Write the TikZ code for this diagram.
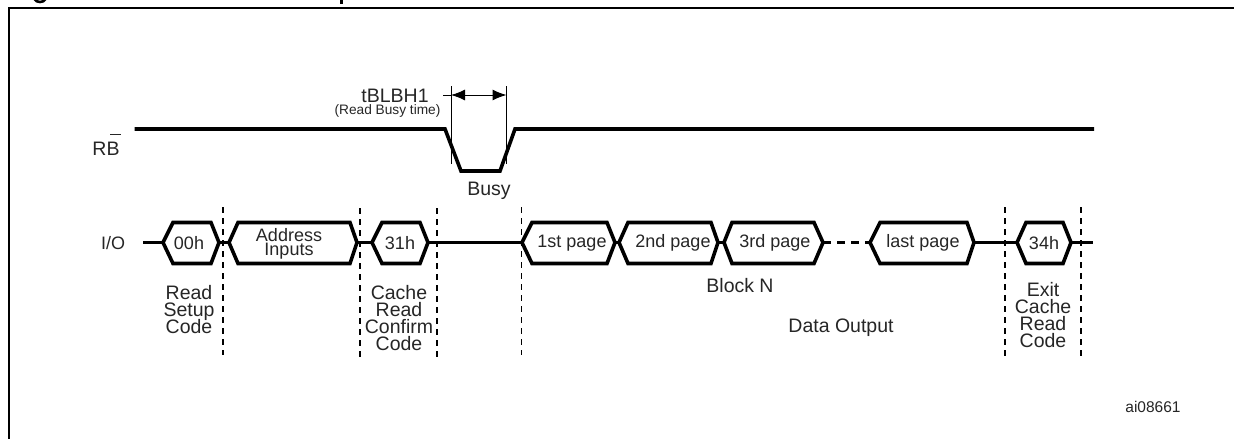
\documentclass[tikz,border=0pt]{standalone}
\usepackage{fontspec}
\setmainfont{Liberation Sans}
\usetikzlibrary{arrows.meta}
\newcommand{\capfont}{\fontsize{19.5}{17}\selectfont\setlength{\lineskiplimit}{-20pt}}
\newcommand{\hexfont}{\fontsize{18}{14}\selectfont\setlength{\lineskiplimit}{-20pt}}
\tikzset{
  sig/.style={line width=3.6pt,line join=miter,line cap=butt},
  wire/.style={line width=3.6pt},
  thinwire/.style={line width=2.6pt},
  guide/.style={line width=1pt},
  cut/.style={line width=1.1pt,dash pattern=on 6pt off 5pt},
  lbl/.style={inner sep=0pt,outer sep=0pt,font=\capfont,align=center,text=black!85},
  hexl/.style={lbl,font=\hexfont},
  tiny/.style={lbl,font=\fontsize{13.7}{14}\selectfont},
}
% \hexa{name}{left tip}{top left}{top right}{right tip}{text x}
\newcommand{\hexa}[6]{%
  \coordinate (#1-l) at (#2,242.5);
  \coordinate (#1-r) at (#5,242.5);
  \draw[sig] (#1-l) -- (#3,222.5) -- (#4,222.5) -- (#1-r) -- (#4,263.5) -- (#3,263.5) -- cycle;
  \node[hexl] (#1) at (#6,243) {#1};
}
\begin{document}
\begin{tikzpicture}[x=1pt,y=-1pt]
\useasboundingbox (0,0) rectangle (1234,439);
\fill[white] (0,0) rectangle (1234,439);
% frame and clipped heading remnants
\draw[line width=2pt] (1234,7.5) -- (8.5,7.5) -- (8.5,439);
\draw[line width=2.6pt] (34.5,-1) .. controls (36,3) and (44,3) .. (45.5,-1);
\fill (339.5,-1) rectangle (343,4.2);
% RB signal
\coordinate (rb0) at (134.5,129);
\coordinate (rb1) at (445,129);
\coordinate (rb2) at (461,171);
\coordinate (rb3) at (500,171);
\coordinate (rb4) at (515,129);
\coordinate (rb5) at (1094,129);
\draw[sig] (rb0) -- (rb1) -- (rb2) -- (rb3) -- (rb4) -- (rb5);
\node[lbl] (rbl) at (106,148.5) {R\rlap{\hspace{3.5pt}\smash{\raisebox{20pt}{\rule{11pt}{1pt}}}}B};
% timing
\coordinate (t1a) at (451,86);
\coordinate (t1b) at (451,164);
\coordinate (t2a) at (506.5,86);
\coordinate (t2b) at (506.5,164);
\coordinate (ta) at (451,95);
\coordinate (tb) at (506.5,95);
\coordinate (ts) at (443,95);
\draw[guide] (t1a) -- (t1b);
\draw[guide] (t2a) -- (t2b);
\draw[guide] (ts) -- (ta);
\draw[guide,{Latex[length=14pt,width=11pt]}-{Latex[length=14pt,width=11pt]}] (ta) -- (tb);
\node[lbl] (tlab) at (395,96) {tBLBH1};
\node[tiny] (tsub) at (387.5,111) {(Read Busy time)};
\node[lbl] (busy) at (489,191) {Busy};
% dashed cuts
\foreach \n/\xx/\ya/\yb in {c1/223/207/355,c2/360/208/358,c3/437/208/358,c4/521.7/207/355,c5/1005/207/356,c6/1081/207/356}{
  \coordinate (\n a) at (\xx,\ya);
  \coordinate (\n b) at (\xx,\yb);
  \draw[cut] (\n a) -- (\n b);
}
% I/O bus
\node[hexl] (iol) at (113,243) {I/O};
\coordinate (bus0) at (143,242.5);
\coordinate (bus1) at (1093,242.5);
\hexa{00h}{163}{173}{211}{219}{189}
\hexa{31h}{372}{382}{420}{428}{400}
\hexa{34h}{1017}{1026}{1063}{1071}{1044}
\hexa{1st page}{522}{532}{607}{615}{572}
\hexa{2nd page}{619}{628}{711}{718}{673}
\hexa{3rd page}{724}{732}{814}{823}{775}
\hexa{last page}{870}{880}{967}{974}{923}
% address block
\coordinate (addr-l) at (229,242.5);
\coordinate (addr-r) at (357,242.5);
\draw[sig] (addr-l) -- (238,222.5) -- (350,222.5) -- (addr-r) -- (350,263.5) -- (238,263.5) -- cycle;
\node[hexl] (addr) at (289,244) {Address\\Inputs};
% connections
\draw[wire] (bus0) -- (00h-l);
\draw[wire] (00h-r) -- (addr-l);
\draw[wire] (addr-r) -- (31h-l);
\draw[thinwire] (31h-r) -- (1st page-l);
\draw[wire] (1st page-r) -- (2nd page-l);
\draw[wire] (2nd page-r) -- (3rd page-l);
\draw[wire,dash pattern=on 8pt off 6pt] (3rd page-r) -- (last page-l);
\draw[wire] (last page-r) -- (34h-l);
\draw[wire] (34h-r) -- (bus1);
% captions
\node[lbl] (cap1) at (189,310) {Read\\Setup\\Code};
\node[lbl] (cap2) at (399,318) {Cache\\Read\\Confirm\\Code};
\node[lbl] (cap3) at (1043,315.5) {Exit\\Cache\\Read\\Code};
\node[lbl] (blk) at (740,286) {Block N};
\node[lbl] (dout) at (841,328) {Data Output};
\node[lbl,font=\fontsize{15.5}{17}\selectfont] (ref) at (1153,407) {ai08661};
\end{tikzpicture}
\end{document}
